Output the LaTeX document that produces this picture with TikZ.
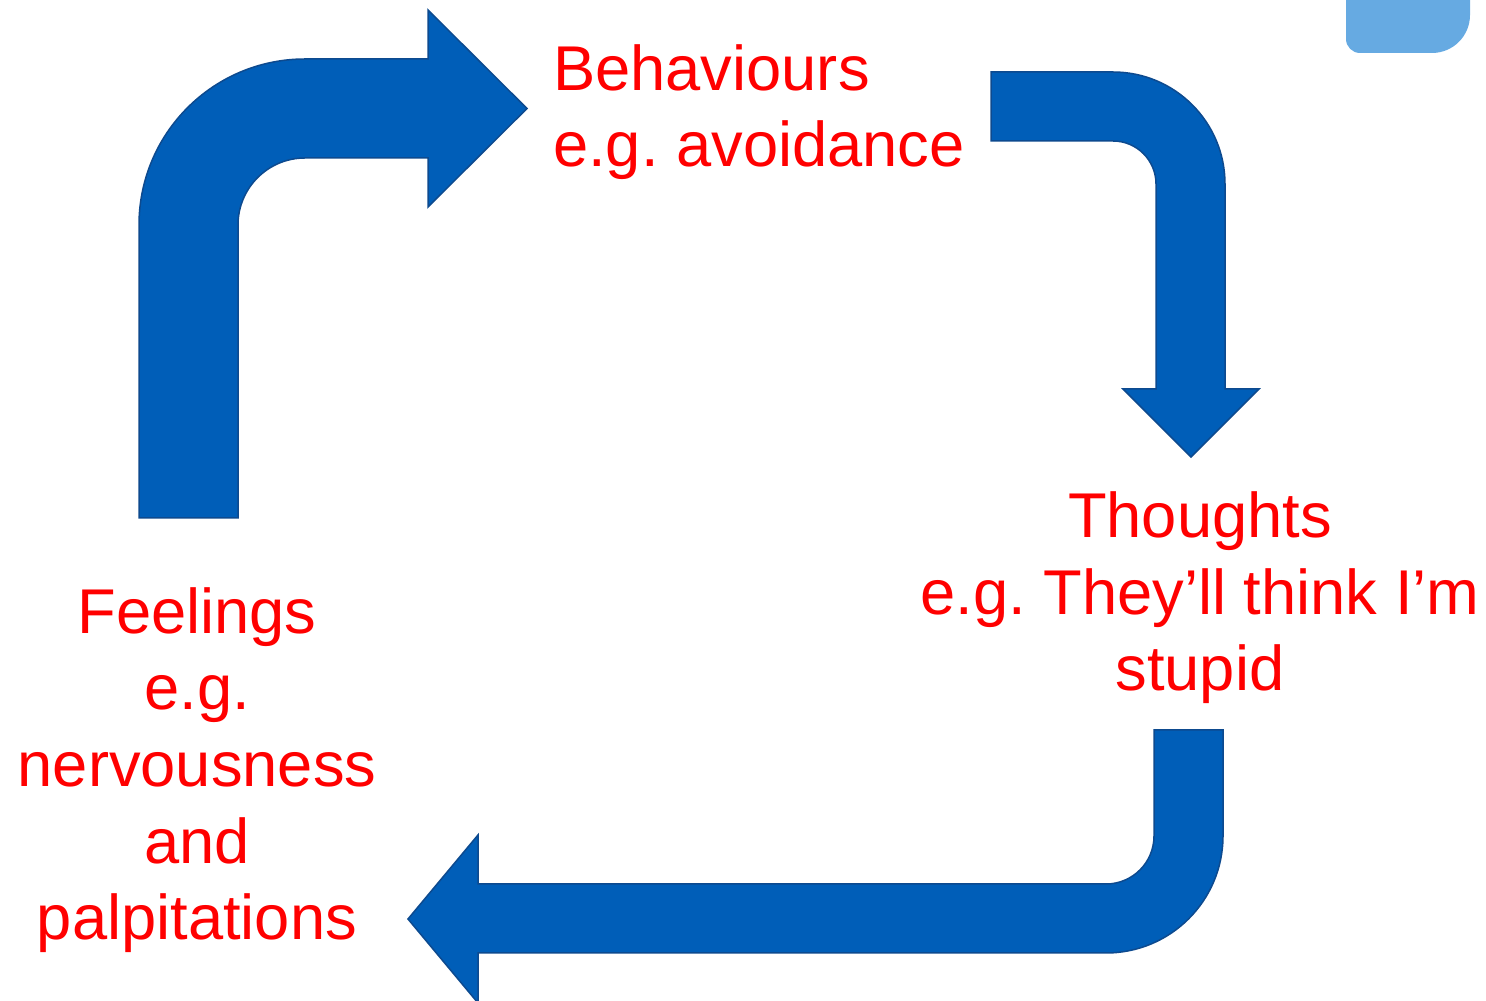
\documentclass[tikz,border=0pt]{standalone}
\usepackage{fontspec}
\setmainfont{Liberation Sans}
\frenchspacing
\definecolor{arrowfill}{HTML}{005EB8}
\definecolor{arrowedge}{HTML}{0D4A8F}
\definecolor{tabfill}{HTML}{66AAE2}
\definecolor{labelred}{HTML}{FF0000}
\tikzset{
  bentarrow/.style={fill=arrowfill,draw=arrowedge,line width=1.5bp},
  cyclelabel/.style={text=labelred,font=\fontsize{63.5}{77}\selectfont\frenchspacing,inner sep=0pt},
}
\begin{document}
\begin{tikzpicture}[line join=miter,]
\useasboundingbox (0bp,0bp) rectangle (1486bp,1001bp);
%%
\fill [tabfill] (1346bp,1030bp) -- (1346bp,962bp) arc[start angle=180,end angle=270,radius=14bp] -- (1432bp,948bp) arc[start angle=270,end angle=360,radius=38bp] -- (1470bp,1030bp) -- cycle;
%
\draw [bentarrow] (139bp,483bp) -- (139bp,776bp) arc[start angle=180,end angle=90,radius=166bp] -- (428bp,942bp) -- (428bp,991bp) -- (527bp,892.5bp) -- (428bp,794bp) -- (428bp,843bp) -- (305bp,843bp) arc[start angle=90,end angle=180,radius=67bp] -- (238bp,483bp) -- cycle;
\draw [bentarrow] (991bp,929bp) -- (1113bp,929bp) arc[start angle=90,end angle=0,radius=112bp] -- (1225bp,612bp) -- (1259bp,612bp) -- (1191bp,544bp) -- (1123bp,612bp) -- (1156bp,612bp) -- (1156bp,817bp) arc[start angle=0,end angle=90,radius=43bp] -- (991bp,860bp) -- cycle;
\draw [bentarrow] (1154bp,271bp) -- (1223bp,271bp) -- (1223bp,165bp) arc[start angle=0,end angle=-90,radius=117bp] -- (478bp,48bp) -- (478bp,-2bp) -- (408bp,82bp) -- (478bp,166bp) -- (478bp,117bp) -- (1106bp,117bp) arc[start angle=-90,end angle=0,radius=48bp] -- cycle;
%
\node (node_0) at (553bp,834bp) [cyclelabel,anchor=base west,align=left] {Behaviours\\e.g. avoidance};
  \node (node_1) at (1200bp,310bp) [cyclelabel,anchor=base,align=center] {Thoughts\\e.g. They’ll think I’m\\stupid};
  \node (node_2) at (197bp,61bp) [cyclelabel,anchor=base,align=center] {Feelings\\e.g.\\nervousness\\and\\palpitations};
%
\end{tikzpicture}
\end{document}
